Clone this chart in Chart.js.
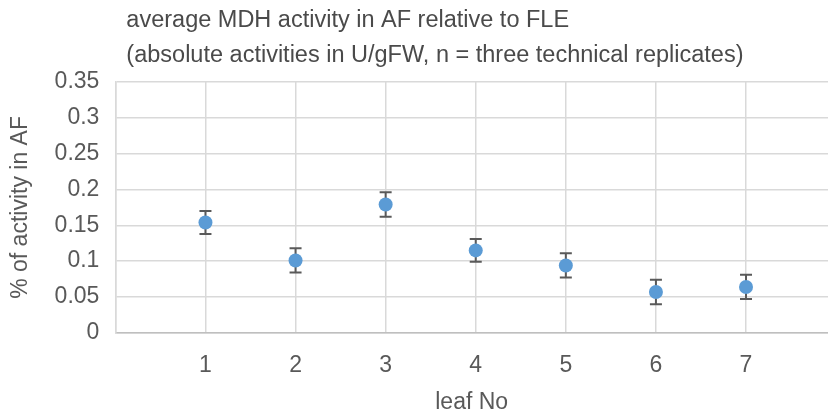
<!DOCTYPE html>
<html>
<head>
<meta charset="utf-8">
<script src="https://cdn.jsdelivr.net/npm/chart.js@4/dist/chart.umd.min.js"></script>
<style>
  html, body { margin: 0; padding: 0; background: #fff; }
  #wrap { width: 828px; height: 412px; }
</style>
</head>
<body>
<div id="wrap"><canvas id="mdhChart" width="828" height="412"></canvas></div>
<script>
// --- data ---
const leafNo = [1, 2, 3, 4, 5, 6, 7];
const activity = [0.154, 0.101, 0.179, 0.115, 0.094, 0.057, 0.064];
const stdErr = [0.016, 0.017, 0.017, 0.016, 0.017, 0.017, 0.017];
const xTickLabels = ['', '1', '2', '3', '4', '5', '6', '7'];
const yTickLabels = ['0', '0.05', '0.1', '0.15', '0.2', '0.25', '0.3', '0.35'];
const titleLines = [
    'average MDH activity in AF relative to FLE',
    '(absolute activities in U/gFW, n = three technical replicates)'
];

const FONT = '"Liberation Sans", Arial, sans-serif';
const TEXT = '#595959';
const GRID = '#d9d9d9';

// error bars, drawn with the chart's own scales
const errorBars = {
    id: 'errorBars',
    beforeDatasetsDraw(chart) {
        const { ctx, scales: { x, y } } = chart;
        ctx.save();
        ctx.strokeStyle = '#595959';
        ctx.lineWidth = 2;
        leafNo.forEach((n, i) => {
            const px = x.getPixelForValue(n);
            const top = y.getPixelForValue(activity[i] + stdErr[i]);
            const bot = y.getPixelForValue(activity[i] - stdErr[i]);
            ctx.beginPath();
            ctx.moveTo(px, top); ctx.lineTo(px, bot);
            ctx.moveTo(px - 6, top); ctx.lineTo(px + 6, top);
            ctx.moveTo(px - 6, bot); ctx.lineTo(px + 6, bot);
            ctx.stroke();
        });
        ctx.restore();
    }
};

// two-line title, left aligned just inside the plot area
const leftTitle = {
    id: 'leftTitle',
    afterDraw(chart) {
        const { ctx, chartArea } = chart;
        ctx.save();
        ctx.font = '23.5px ' + FONT;
        ctx.fillStyle = '#4a4a4a';
        ctx.textBaseline = 'alphabetic';
        ctx.textAlign = 'left';
        ctx.fillText(titleLines[0], chartArea.left + 11, 27);
        ctx.fillText(titleLines[1], chartArea.left + 11, 62);
        ctx.restore();
    }
};

new Chart(document.getElementById('mdhChart'), {
    type: 'scatter',
    data: {
        datasets: [{
            label: 'MDH activity',
            data: leafNo.map((n, i) => ({ x: n, y: activity[i] })),
            backgroundColor: '#5b9bd5',
            borderWidth: 0,
            pointRadius: 7,
            pointHoverRadius: 7
        }]
    },
    options: {
        responsive: false,
        animation: false,
        layout: {
            autoPadding: false,
            padding: { top: 82, right: 0, bottom: 0, left: 0 }
        },
        plugins: {
            legend: { display: false },
            tooltip: { enabled: false },
            title: { display: false }
        },
        scales: {
            x: {
                type: 'linear',
                min: 0,
                max: 7.91,
                afterBuildTicks: (scale) => {
                    scale.ticks = xTickLabels.map((_, i) => ({ value: i }));
                },
                // last label (7) sits well inside the plot, no need for edge room
                afterFit: (scale) => { scale.paddingRight = 0; },
                ticks: {
                    autoSkip: false,
                    maxRotation: 0,
                    padding: 19,
                    color: TEXT,
                    font: { family: FONT, size: 23 },
                    callback: (v, i) => xTickLabels[i]
                },
                grid: { color: GRID, lineWidth: 1.5, drawTicks: false },
                border: { color: '#bfbfbf', width: 1.5 },
                title: {
                    display: true,
                    text: 'leaf No',
                    color: TEXT,
                    font: { family: FONT, size: 23 },
                    padding: { top: -10, bottom: -4 }
                }
            },
            y: {
                min: 0,
                max: 0.35,
                afterBuildTicks: (scale) => {
                    scale.ticks = yTickLabels.map((t) => ({ value: parseFloat(t) }));
                },
                ticks: {
                    padding: 16,
                    color: TEXT,
                    font: { family: FONT, size: 23 },
                    callback: (v, i) => yTickLabels[i]
                },
                grid: { color: GRID, lineWidth: 1.5, drawTicks: false },
                border: { color: GRID, width: 1.5 },
                title: {
                    display: true,
                    text: '% of activity in AF',
                    color: TEXT,
                    font: { family: FONT, size: 23 },
                    padding: { top: 7, bottom: 4 }
                }
            }
        }
    },
    plugins: [errorBars, leftTitle]
});
</script>
</body>
</html>
